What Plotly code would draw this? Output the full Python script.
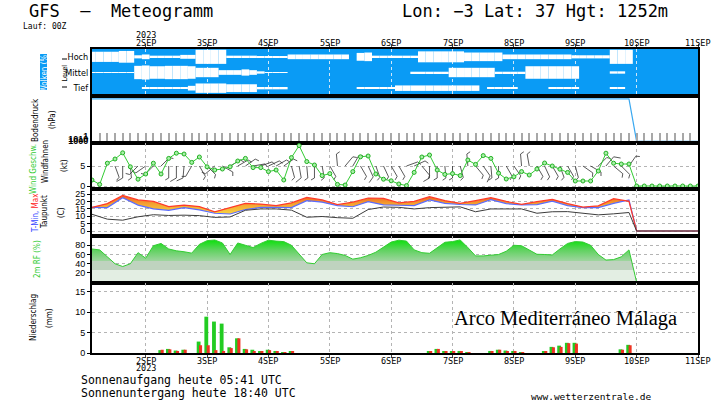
import math
import pandas as pd
import plotly.graph_objects as go

# ---------------- data ----------------
START = "2023-09-01 03:00"
N = 80
times = list(pd.date_range(START, periods=N, freq="3h"))
times6 = list(pd.date_range(START, periods=36, freq="6h")) + [pd.Timestamp("2023-09-10 00:00"), pd.Timestamp("2023-09-11 00:00")]

day_ticks = list(pd.date_range("2023-09-02", "2023-09-11", freq="D"))
day_labels = ["2SEP", "3SEP", "4SEP", "5SEP", "6SEP", "7SEP", "8SEP", "9SEP", "10SEP", "11SEP"]
year_label = "2023"

# cloud cover per level (%)
cloud_hoch = [35, 35, 35, 35, 25, 25, 80, 70, 85, 85,
              85, 85, 75, 75, 10, 10, 10, 10, 85, 85,
              85, 85, 90, 90, 90, 90, 70, 70, 70, 70,
              70, 70, 70, 70, 100, 50, 45, 85, 85, 85,
              85, 85, 85, 30, 30, 30, 30, 30, 30, 45,
              45, 45, 45, 45, 70, 70, 70, 70, 70, 70,
              70, 70, 70, 80, 80, 80, 80, 80, 10, 10,
              10, 100, 100, 100, 100, 100, 100, 100, 100, 100]
cloud_mittel = [95, 95, 95, 95, 95, 95, 15, 10, 20, 20,
                15, 15, 15, 20, 40, 40, 40, 70, 70, 70,
                60, 70, 85, 95, 95, 95, 100, 100, 100, 100,
                100, 100, 100, 100, 100, 100, 100, 100, 100, 100,
                100, 100, 90, 90, 90, 90, 90, 40, 40, 40,
                40, 40, 40, 90, 90, 90, 90, 20, 20, 20,
                20, 20, 20, 20, 100, 100, 100, 100, 85, 85,
                100, 100, 100, 100, 100, 100, 100, 100, 100, 100]
cloud_tief = [100, 100, 100, 100, 100, 100, 100, 93, 93, 93,
              93, 93, 93, 70, 40, 40, 40, 40, 50, 50,
              50, 50, 85, 85, 85, 85, 100, 100, 100, 100,
              100, 100, 100, 100, 100, 92, 92, 92, 92, 92,
              65, 65, 65, 65, 65, 65, 65, 65, 65, 65,
              65, 100, 92, 92, 92, 92, 100, 100, 100, 100,
              92, 92, 92, 92, 100, 100, 100, 100, 92, 92,
              100, 100, 100, 100, 100, 100, 100, 100, 100, 100]

# surface pressure (hPa), 3-hourly until 9SEP 21Z, then end values
pressure = [1016] * 71 + [0, 0]
pressure_ticks = ["1000", "1010", "1"]

# wind speed (kt)
wind_speed = [1.5, 0.4, 5.7, 6.75, 8.3, 4.8, 1.7, 3.0, 5.7, 3.0,
              6.9, 8.2, 8.0, 5.9, 7.25, 4.8, 4.0, 4.25, 4.8, 6.25,
              6.9, 4.6, 4.6, 3.6, 4.0, 1.5, 7.1, 10.1, 6.1, 5.25,
              2.6, 3.1, 0.4, 0.25, 3.6, 7.3, 7.5, 3.0, 1.7, 1.3,
              0.5, 0.1, 3.4, 7.25, 7.75, 4.0, 2.9, 3.1, 2.6, 6.5,
              5.4, 7.6, 6.9, 3.2, 1.75, 2.3, 3.6, 2.75, 4.25, 5.75,
              5.0, 4.2, 3.4, 1.25, 1.25, 1.25, 3.75, 8.2, 5.7, 5.5,
              5.5, 0, 0, 0, 0, 0, 0, 0, 0, 0]
# wind direction (deg, from)
wind_dir = [None, None, None, 160, 180, 175, 225, 235, 225, 45,
            180, 180, 185, 210, 150, 135, 230, 120, 60, 60,
            55, 80, 70, 65, 60, 55, 165, 170, 175, 180,
            170, 150, 355, 40, 30, 150, 155, 160, 155, 150,
            150, 70, 65, 140, 180, 180, 175, 180, 165, 355,
            140, 145, 175, 180, 150, 145, 355, 350, 150, 155,
            150, 160, 150, 165, 125, 120, 45, 40, 130, 135,
            35, None, None, None, None, None, None, None, None, None]

# temperatures (C), 6-hourly
t_max = [16, 18.5, 24, 21, 20, 16.5, 17.5, 16.5, 13, 16, 18.7, 18.2, 17.2, 19, 22.7, 21, 17.8, 19.5,
         22.3, 22, 19, 20, 23.2, 20.5, 18.7, 20.5, 22.5, 20, 18, 19.8, 21.4, 18.5, 16.2, 17, 21.8, 20, 0, 0]
t_min = [16, 15.8, 22.5, 17.5, 15, 14, 15.8, 14.3, 12, 11.5, 14.5, 16, 15.9, 15.8, 20.5, 19.5, 17.2, 16.4,
         19.8, 17.6, 17.4, 17.2, 21, 18.7, 17.9, 17.6, 21.2, 18.5, 17.6, 17.8, 20.2, 17.1, 15.8, 15.8, 18.7, 21, 0, 0]
dewpoint = [11.3, 8, 7.3, 9.6, 11, 10.5, 10.7, 10.4, 9.2, 9.5, 14, 14.9, 14.9, 14.1, 9.3, 9.8, 9, 8.6,
            14.5, 16.2, 16, 14.9, 15.8, 16.3, 16.3, 13, 14.9, 14.9, 14.9, 12, 13, 13.1, 12, 10.9, 11.6, 12.5, 0, 0]

# relative humidity 2m (%)
rh = [72, 70, 55, 40, 34, 40, 64, 52, 79, 84,
      72, 68, 66, 63, 82, 90, 91.5, 85, 60, 85,
      80, 75, 84, 91, 89, 88, 80, 60, 42, 40,
      60, 64, 62, 58, 50, 53, 58, 65, 76, 87,
      91, 89, 70, 64, 62.6, 75, 86.5, 88, 91.6, 75,
      57, 57, 59, 60, 67, 80, 79, 70, 60.5, 60,
      59, 72, 84, 88, 87, 80, 60, 48, 49, 55,
      70, 0, 0, 0, 0, 0, 0, 0, 0, 0]

# precipitation (mm / 3h)
precip_total = [0, 0, 0, 0, 0, 0, 0, 0, 0, 0.7,
                1.0, 0.6, 0.8, 0, 2.8, 8.9, 7.7, 7.2, 1.4, 3.6,
                1.0, 0.8, 0.3, 0.8, 0.5, 0.2, 0.3, 0, 0, 0,
                0, 0, 0, 0, 0, 0, 0, 0, 0, 0,
                0, 0, 0, 0, 0.4, 1.0, 0.3, 0.4, 0.5, 0.1,
                0, 0, 0.5, 0.8, 0.6, 0.5, 0.1, 0, 0, 0.3,
                1.5, 1.8, 2.5, 2.5, 0, 0, 0, 0, 0, 0.9,
                2.0, 0, 0, 0, 0, 0, 0, 0, 0, 0]
precip_conv = [0, 0, 0, 0, 0, 0, 0, 0, 0, 0.8,
               0.9, 0.5, 0.8, 0, 1.9, 1.9, 0.7, 0.5, 1.2, 3.6,
               0.9, 0.4, 0.3, 0.7, 0.3, 0.1, 0.3, 0, 0, 0,
               0, 0, 0, 0, 0, 0, 0, 0, 0, 0,
               0, 0, 0, 0, 0.4, 1.0, 0.3, 0.3, 0.3, 0.1,
               0, 0, 0.4, 0.8, 0.4, 0.5, 0.1, 0, 0, 0.3,
               1.4, 1.5, 2.4, 2.3, 0, 0, 0, 0, 0, 0.8,
               1.9, 0, 0, 0, 0, 0, 0, 0, 0, 0]

# ---------------- layout helpers ----------------
W, HGT = 726, 407
ML, MR, MT, MB = 92, 28, 49, 54
PW, PH = W - ML - MR, HGT - MT - MB
X0 = pd.Timestamp(START)
X1 = pd.Timestamp("2023-09-11 00:00")
H3 = 3 * 3600 * 1000
MS_PER_PX = (X1 - X0).total_seconds() * 1000 / PW


def px(x):
    return (x - ML) / PW


def py(y):
    return (HGT - MB - y) / PH


def dom(top, bot):
    return [py(bot), py(top)]


CLOUD_BLUE = "#0a9bf5"
GRID = dict(showgrid=True, gridcolor="#b4b4b4", griddash="dot", gridwidth=1)
NARROW = "Liberation Sans Narrow, DejaVu Sans Condensed, Arial Narrow, sans-serif"
MONO = "DejaVu Sans Mono, Liberation Mono, monospace"

fig = go.Figure()

# clouds: white = clear part of each level band
for cover, center in [(cloud_hoch, 2.5), (cloud_mittel, 1.5), (cloud_tief, 0.5)]:
    clear = [(100 - c) / 100 for c in cover]
    base = [center - h / 2 for h in clear]
    fig.add_bar(x=times, y=clear, base=base, width=H3, marker_color="white",
                marker_line_width=0, xaxis="x", yaxis="y", hoverinfo="skip")

# pressure
fig.add_scatter(x=times[:71] + [pd.Timestamp("2023-09-10 00:00"), X1], y=pressure, mode="lines",
                line=dict(color="#3aa8f0", width=1.2), xaxis="x2", yaxis="y2")

# wind barbs
KT_PER_PX = 11.5 / 46.0
bx, by = [], []
for i, (d, s) in enumerate(zip(wind_dir, wind_speed)):
    if d is None:
        continue
    t = times[i]
    r = math.radians(d)
    ux, uy = math.sin(r), math.cos(r)
    L = 12.0
    tx, ty = ux * L, uy * L
    fl = 4.0 if s < 7.5 else 7.0
    fx = tx + fl * (0.87 * uy + 0.5 * ux)
    fy = ty + fl * (0.87 * -ux + 0.5 * uy)

    def P(a, b):
        return t + pd.Timedelta(milliseconds=a * MS_PER_PX), 5 + b * KT_PER_PX
    for (a, b) in [(0, 0), (tx, ty)]:
        xx, yy = P(a, b); bx.append(xx); by.append(yy)
    bx.append(None); by.append(None)
    for (a, b) in [(tx, ty), (fx, fy)]:
        xx, yy = P(a, b); bx.append(xx); by.append(yy)
    bx.append(None); by.append(None)
fig.add_scatter(x=bx, y=by, mode="lines", line=dict(color="#303030", width=0.8),
                xaxis="x3", yaxis="y3", hoverinfo="skip")
fig.add_scatter(x=times, y=wind_speed, mode="lines+markers",
                line=dict(color="#33cc33", width=1),
                marker=dict(symbol="circle", size=4, color="#a8f0a8", line=dict(color="#22b022", width=1)),
                xaxis="x3", yaxis="y3")

# temperature
fig.add_scatter(x=times6, y=t_min, mode="lines", line=dict(color="#5a6cff", width=1.2),
                xaxis="x4", yaxis="y4")
fig.add_scatter(x=times6, y=t_max, mode="lines", line=dict(color="#ff3a2a", width=1.2),
                fill="tonexty",
                fillgradient=dict(type="vertical", start=12, stop=25,
                                  colorscale=[[0, "#f6d040"], [0.5, "#f4a030"], [1, "#f05020"]]),
                xaxis="x4", yaxis="y4")
fig.add_scatter(x=times6, y=dewpoint, mode="lines", line=dict(color="#3c3c3c", width=1),
                xaxis="x4", yaxis="y4")

# relative humidity
fig.add_scatter(x=times, y=rh, mode="lines", line=dict(color="#33cc33", width=1),
                fill="tozeroy",
                fillgradient=dict(type="vertical", start=0, stop=100,
                                  colorscale=[[0, "#e3eee3"], [0.27, "#e3eee3"], [0.27, "#bfd3bf"],
                                              [0.46, "#bfd3bf"], [0.46, "#9fd59f"], [0.7, "#5fd25f"],
                                              [0.9, "#11e011"], [1, "#00f000"]]),
                xaxis="x5", yaxis="y5")

# precipitation
fig.add_bar(x=times, y=precip_total, width=0.5 * H3, offset=-0.35 * H3, marker_color="#22cc22",
            marker_line_width=0, xaxis="x6", yaxis="y6")
fig.add_bar(x=times, y=precip_conv, width=0.4 * H3, offset=-0.05 * H3, marker_color="#ee3322",
            marker_line_width=0, xaxis="x6", yaxis="y6")

# ---------------- axes ----------------
xr = [X0, X1]
frame = dict(showline=True, mirror=True, linecolor="black", linewidth=2, automargin=False)
xcommon = dict(type="date", range=xr, tickvals=day_ticks, ticktext=day_labels, zeroline=False, **frame)

layout = dict(
    width=W, height=HGT, margin=dict(l=ML, r=MR, t=MT, b=MB, autoexpand=False),
    paper_bgcolor="white", plot_bgcolor="white", showlegend=False, barmode="overlay",
    font=dict(family="Liberation Sans, Arial, sans-serif", size=9, color="black"),
)
panels = [(49, 96), (96, 143), (143, 189), (189, 236), (236, 283), (283, 353)]
for k in range(6):
    xn = "xaxis" if k == 0 else f"xaxis{k + 1}"
    yn = "yaxis" if k == 0 else f"yaxis{k + 1}"
    yref = "y" if k == 0 else f"y{k + 1}"
    xax = dict(xcommon, anchor=yref, domain=[0, 1], showticklabels=False, ticks="", **GRID)
    if k > 0:
        xax["matches"] = "x"
    layout[xn] = xax
    layout[yn] = dict(domain=dom(*panels[k]), anchor="x" if k == 0 else f"x{k + 1}",
                      zeroline=False, ticks="outside", ticklen=3, tickcolor="black",
                      tickfont=dict(size=9), **frame)

layout["xaxis"].update(side="top", ticks="outside", ticklen=3, gridcolor="#cfe6f8")
layout["xaxis2"].update(showgrid=False, ticks="inside", ticklen=10, tickwidth=2, tickcolor="#a8a8a8",
                        minor=dict(dtick=H3, tick0="2023-09-01 00:00", ticks="inside", ticklen=10,
                                   tickwidth=2, tickcolor="#a8a8a8", showgrid=False))
layout["xaxis6"].update(ticks="outside", ticklen=3)

layout["yaxis"].update(range=[0, 3], tickvals=[2.5, 1.5, 0.5], ticktext=["Hoch", "Mittel", "Tief"],
                       ticks="", tickfont=dict(family=NARROW, size=9), showgrid=False)
layout["yaxis2"].update(range=[-40, 1085], tickvals=[0, 60, 120],
                        ticktext=["<b>" + s + "</b>" for s in pressure_ticks], ticks="", showgrid=False,
                        tickfont=dict(size=9))
layout["yaxis3"].update(range=[-0.75, 10.75], tickvals=[0, 5], **GRID)
layout["yaxis4"].update(range=[-3.38, 28.38], tickvals=[0, 5, 10, 15, 20, 25], **GRID)
layout["yaxis5"].update(range=[-1.7, 100.1], tickvals=[20, 40, 60, 80], layer="above traces", **GRID)
layout["yaxis6"].update(range=[0, 17.15], tickvals=[0, 5, 10, 15], **GRID)

fig.update_layout(**layout)

# cloud panel blue background
shapes = [dict(type="rect", xref="x domain", yref="y domain", x0=0, x1=1, y0=0, y1=1,
               fillcolor=CLOUD_BLUE, line_width=0, layer="below"),
          dict(type="rect", xref="paper", yref="paper", x0=px(40), x1=px(47), y0=py(90), y1=py(54),
               fillcolor=CLOUD_BLUE, line_width=0),
          dict(type="line", xref="paper", yref="paper", x0=px(62), x1=px(67), y0=py(59), y1=py(59),
               line=dict(color="black", width=1)),
          dict(type="line", xref="paper", yref="paper", x0=px(62), x1=px(67), y0=py(87), y1=py(87),
               line=dict(color="black", width=1))]
fig.update_layout(shapes=shapes)


def ann(text, x, y, size=9, family=None, color="black", angle=0, xanchor="center", xref="paper"):
    d = dict(text=text, x=px(x) if xref == "paper" else x, y=py(y), xref=xref, yref="paper",
             showarrow=False, xanchor=xanchor, yanchor="middle", textangle=angle,
             font=dict(size=size, color=color, family=family or NARROW))
    fig.add_annotation(**d)


ann("GFS  —  Meteogramm", 27, 11, 17, MONO, xanchor="left")
ann("Lon: −3 Lat: 37 Hgt: 1252m", 400, 11, 17, MONO, xanchor="left")
ann("Lauf: 00Z", 21, 26, 8, MONO, xanchor="left")
ann("Sonnenaufgang heute 05:41 UTC", 79, 380, 11.5, MONO, xanchor="left")
ann("Sonnenuntergang heute 18:40 UTC", 79, 392.5, 11.5, MONO, xanchor="left")
ann("www.wetterzentrale.de", 529, 396, 9.5, MONO, xanchor="left")
ann("Arco Mediterráneo Málaga", 452, 318, 20.5, "Liberation Serif, Times New Roman, serif", xanchor="left")

# day labels above the cloud panel and below the precipitation panel
for t, lab in zip(day_ticks, day_labels):
    ann(lab, t, 43, 8.5, MONO, xref="x")
    ann(lab, t, 361, 8.5, MONO, xref="x6")
ann(year_label, day_ticks[0], 35, 8.5, MONO, xref="x")
ann(year_label, day_ticks[0], 368.5, 8.5, MONO, xref="x6")

ann("Wolken (%)", 43.5, 72, 8, color="white", angle=-90)
ann("Level", 64.5, 73, 7, angle=-90)
ann("Bodendruck", 35, 120, 8, angle=-90)
ann("(hPa)", 52, 120, 8, angle=-90)
ann("Wind Geschw.", 33, 169, 8, color="#33cc33", angle=-90)
ann("Windfahnen", 45, 162, 8, angle=-90)
ann("(kt)", 64, 166, 8, angle=-90)
ann("<span style='color:#3344ff'>T-Min,</span> <span style='color:#ff2222'>Max</span>", 35, 213, 8, angle=-90)
ann("Taupunkt", 45, 212, 8, angle=-90)
ann("(C)", 61, 213, 8, angle=-90)
ann("2m RF (%)", 37, 259, 8, color="#33cc33", angle=-90)
ann("Niederschlag", 33, 318, 8, angle=-90)
ann("(mm)", 49, 318, 8, angle=-90)

fig.write_html("out.html", config={"displayModeBar": False},
               post_script="document.body.style.margin='0px';document.body.style.overflow='hidden';")
